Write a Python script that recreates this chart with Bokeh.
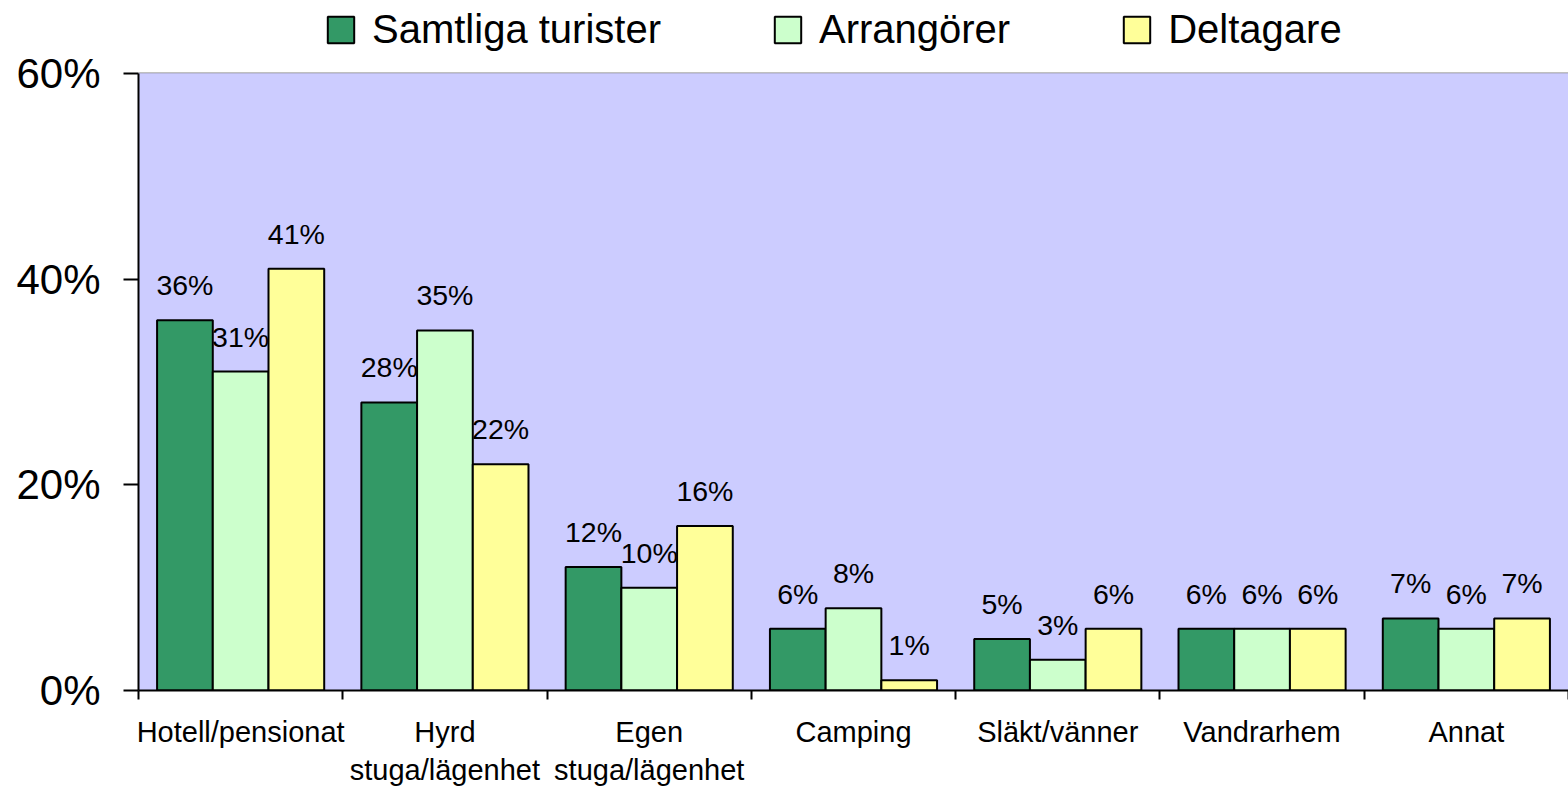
from bokeh.plotting import figure
from bokeh.models import FixedTicker, Legend, LegendItem, Range1d, BoxAnnotation
from bokeh.core.properties import value
from bokeh.embed import file_html
from bokeh.resources import INLINE

categories = ["Hotell/pensionat", "Hyrd\nstuga/lägenhet", "Egen\nstuga/lägenhet",
              "Camping", "Släkt/vänner", "Vandrarhem", "Annat"]
series_names = ["Samtliga turister", "Arrangörer", "Deltagare"]
samtliga = [36, 28, 12, 6, 5, 6, 7]
arrangorer = [31, 35, 10, 8, 3, 6, 6]
deltagare = [41, 22, 16, 1, 6, 6, 7]
y_ticks = [0, 20, 40, 60]

series = [samtliga, arrangorer, deltagare]
colors = ["#339966", "#CCFFCC", "#FFFF99"]
FONT = "Liberation Sans"

# layout (pixels)
W, H = 1568, 788
left_b, bottom_b = 138, 96
plot_top_px = 73          # where 60% sits
frame_h = H - bottom_b
y_max = max(y_ticks)
y_top = y_max * frame_h / (frame_h - plot_top_px)   # extra room for the legend

p = figure(width=W, height=H,
           x_range=Range1d(0, len(categories)), y_range=Range1d(0, y_top),
           output_backend="svg", toolbar_location=None,
           min_border_left=left_b, min_border_right=0, min_border_top=0, min_border_bottom=bottom_b,
           background_fill_color="white", border_fill_color="white", outline_line_color=None)

p.add_layout(BoxAnnotation(bottom=0, top=y_max, fill_color="#CCCCFF", fill_alpha=1,
                           line_color=None, level="underlay"))

bw = 0.2727
renderers = []
for k, (vals, col) in enumerate(zip(series, colors)):
    xs = [i + 0.5 + (k - 1) * bw for i in range(len(categories))]
    r = p.vbar(x=xs, top=vals, bottom=0, width=bw, fill_color=col,
               line_color="black", line_width=2)
    renderers.append(r)
    p.text(x=xs, y=vals, text=[f"{v}%" for v in vals], text_align="center",
           text_baseline="alphabetic", y_offset=-35, text_font=value(FONT),
           text_font_size="28.5px", text_color="black")

legend = Legend(items=[LegendItem(label=n, renderers=[r]) for n, r in zip(series_names, renderers)],
                orientation="horizontal", location=(186, 638), margin=0, padding=0,
                spacing=110, glyph_width=33, glyph_height=33, label_standoff=15,
                label_text_font=FONT, label_text_font_size="40px", label_text_color="black",
                background_fill_alpha=0, border_line_color=None)
p.add_layout(legend, "center")

p.yaxis.ticker = FixedTicker(ticks=y_ticks)
p.yaxis.bounds = (0, y_max)
p.yaxis.major_label_overrides = {t: f"{t}%" for t in y_ticks}
p.yaxis.major_tick_out = 15
p.yaxis.major_tick_in = 0
p.yaxis.minor_tick_line_color = None
p.yaxis.axis_line_width = 2
p.yaxis.axis_line_color = "black"
p.yaxis.major_tick_line_color = "black"
p.yaxis.major_tick_line_width = 2
p.yaxis.major_label_text_font = FONT
p.yaxis.major_label_text_color = "black"
p.yaxis.major_label_text_font_size = "42px"
p.yaxis.major_label_standoff = 23

centers = [i + 0.5 for i in range(len(categories))]
p.xaxis.ticker = FixedTicker(ticks=centers, minor_ticks=list(range(len(categories) + 1)))
p.xaxis.major_label_overrides = {c: lab for c, lab in zip(centers, categories)}
p.xaxis.major_tick_line_color = None
p.xaxis.major_tick_out = 0
p.xaxis.major_tick_in = 0
p.xaxis.minor_tick_out = 9
p.xaxis.minor_tick_in = 0
p.xaxis.minor_tick_line_width = 2
p.xaxis.minor_tick_line_color = "black"
p.xaxis.axis_line_width = 2
p.xaxis.axis_line_color = "black"
p.xaxis.major_label_text_font = FONT
p.xaxis.major_label_text_color = "black"
p.xaxis.major_label_text_font_size = "29px"
p.xaxis.major_label_standoff = 16
p.xaxis.major_label_text_line_height = 1.2

p.xgrid.visible = False
p.ygrid.ticker = FixedTicker(ticks=[y_max])
p.ygrid.grid_line_color = "#808080"
p.ygrid.grid_line_width = 2

open("out.html", "w").write(file_html(p, INLINE))
